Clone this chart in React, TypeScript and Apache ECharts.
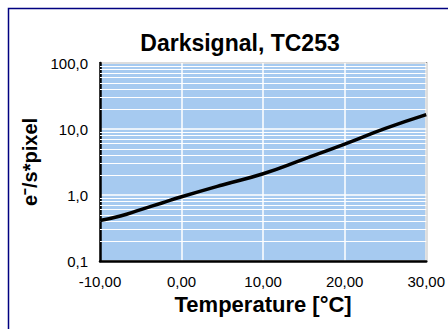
import React, { useEffect, useRef } from "react";
import * as echarts from "echarts";

const temperatures = [-10, -7.5, -5, -2.5, 0, 5, 10, 15, 20, 25, 30];
const darkSignal = [0.41, 0.48, 0.6, 0.75, 0.94, 1.42, 2.1, 3.5, 5.9, 10.2, 16.5];
const yTicks = [0.1, 1, 10, 100];
const minorGrid = [0.2, 0.3, 0.4, 0.5, 0.6, 0.7, 0.8, 0.9, 2, 3, 4, 5, 6, 7, 8, 9, 20, 30, 40, 50, 60, 70, 80, 90];

export default function App() {
  const ref = useRef<HTMLDivElement>(null);
  useEffect(() => {
    const chart = echarts.init(ref.current!, null, { renderer: "svg" });
    chart.setOption({
      animation: false,
      title: {
        text: "Darksignal, TC253",
        left: 235,
        textAlign: "center",
        top: 26,
        textStyle: { fontFamily: "Liberation Sans, Arial", fontWeight: "bold", fontSize: 23, color: "#000" },
      },
      graphic: [
        {
          type: "rect",
          shape: { x: 8.5, y: 8.5, width: 600, height: 600 },
          style: { fill: "none", stroke: "#000080", lineWidth: 1.5 },
          silent: true,
        },
      ],
      grid: {
        left: 100,
        top: 63,
        right: 21,
        bottom: 68,
        show: true,
        backgroundColor: "#A6CAF0",
        borderColor: "#777",
        borderWidth: 2,
      },
      xAxis: {
        type: "value",
        min: -10,
        max: 30,
        interval: 10,
        name: "Temperature [°C]",
        nameLocation: "middle",
        nameGap: 32,
        nameTextStyle: { fontFamily: "Liberation Sans, Arial", fontWeight: "bold", fontSize: 22, color: "#000" },
        axisLine: { show: true, onZero: false, lineStyle: { color: "#000", width: 2.5 } },
        axisTick: { show: false },
        axisLabel: {
          margin: 13,
          fontFamily: "Liberation Sans, Arial",
          fontSize: 15,
          color: "#000",
          formatter: (v: number) => v.toFixed(2).replace(".", ","),
        },
        splitLine: { show: true, lineStyle: { color: "#fff", width: 1.5 } },
      },
      yAxis: {
        type: "log",
        logBase: 10,
        min: yTicks[0],
        max: yTicks[yTicks.length - 1],
        name: "e⁻/s*pixel",
        nameLocation: "middle",
        nameGap: 56,
        nameTextStyle: { fontFamily: "Liberation Sans, Arial", fontWeight: "bold", fontSize: 20, color: "#000" },
        axisLine: { show: true, onZero: false, lineStyle: { color: "#000", width: 2.5 } },
        axisTick: { show: false },
        axisLabel: {
          margin: 12,
          fontFamily: "Liberation Sans, Arial",
          fontSize: 15,
          color: "#000",
          formatter: (v: number) => v.toFixed(1).replace(".", ","),
        },
        splitLine: { show: true, lineStyle: { color: "#fff", width: 1.5 } },
      },
      series: [
        {
          type: "line",
          data: temperatures.map((t, i) => [t, darkSignal[i]]),
          smooth: true,
          symbol: "none",
          lineStyle: { color: "#000", width: 3.5 },
          z: 5,
          markLine: {
            silent: true,
            symbol: "none",
            label: { show: false },
            lineStyle: { color: "#fff", width: 1.2, type: "solid" },
            data: minorGrid.map((v) => ({ yAxis: v })),
            z: 1,
          },
        },
      ],
    });
    return () => chart.dispose();
  }, []);
  return <div ref={ref} style={{ position: "absolute", left: 0, top: 0, width: 448, height: 329 }} />;
}
